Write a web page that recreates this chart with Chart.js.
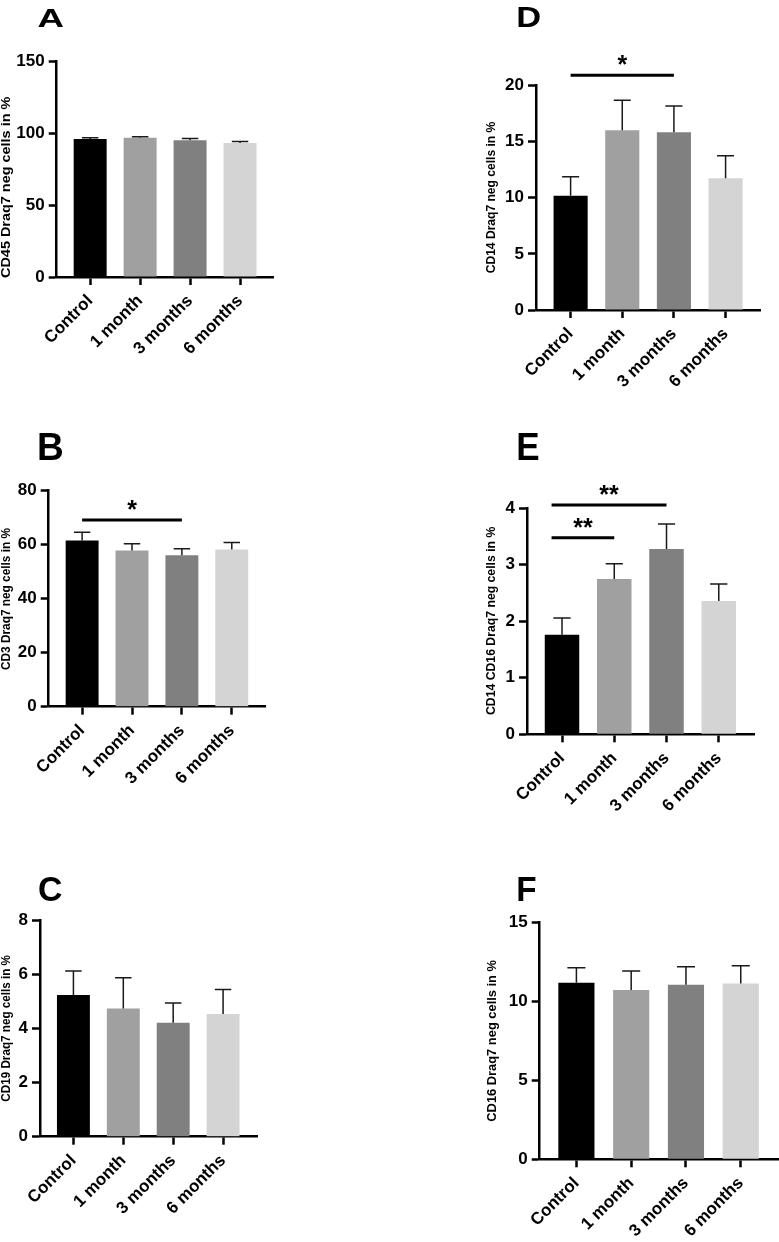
<!DOCTYPE html>
<html>
<head>
<meta charset="utf-8">
<script src="https://cdn.jsdelivr.net/npm/chart.js@4.4.1/dist/chart.umd.min.js"></script>
<style>
  html, body { margin: 0; padding: 0; background: #fff; }
  #wrap { position: relative; width: 779px; height: 1242px; overflow: hidden; }
  #wrap canvas { position: absolute; left: 0; top: 0; }
</style>
</head>
<body>
<div id="wrap"></div>
<script>
const groups = ["Control", "1 month", "3 months", "6 months"];
const barColors = ["#000000", "#a0a0a0", "#808080", "#d4d4d4"];

const cd45Mean = [95.9, 96.7, 94.9, 93.0];
const cd45Sem = [0.8, 0.7, 1.3, 1.1];
const cd3Mean = [61.4, 57.7, 55.9, 58.0];
const cd3Sem = [3.0, 2.5, 2.4, 2.6];
const cd19Mean = [5.23, 4.73, 4.21, 4.53];
const cd19Sem = [0.89, 1.14, 0.73, 0.9];
const cd14Mean = [10.17, 15.99, 15.81, 11.72];
const cd14Sem = [1.69, 2.69, 2.34, 2.01];
const cd14cd16Mean = [1.76, 2.75, 3.28, 2.36];
const cd14cd16Sem = [0.3, 0.27, 0.44, 0.3];
const cd16Mean = [11.19, 10.73, 11.07, 11.15];
const cd16Sem = [0.95, 1.2, 1.14, 1.12];

// significance bars: [from group, to group, height in axis units, stars]
const cd3Sig = [[0, 2, 68.9, "*"]];
const cd14Sig = [[0, 2, 20.9, "*"]];
const cd14cd16Sig = [[-0.2, 2, 4.06, "**"], [-0.2, 1, 3.48, "**"]];

const PAGE_W = 779;
const PAGE_H = 1242;
const Y_W = 40;
const X_H = 80;
const FONT = '"Liberation Sans", Arial, Helvetica, sans-serif';

// area = [left, top, right, bottom] of the plot in page pixels
const panels = [
  { letter: "A", letterBox: [38.3, 8.3, 25, 18.3], title: "CD45 Draq7 neg cells in %", titleBox: [6.5, 96.7, 278],
    area: [56.7, 61, 274, 277], yMax: 150, step: 50, mean: cd45Mean, sem: cd45Sem, sig: [] },
  { letter: "B", letterBox: [39.3, 433.3, 23, 26.7], title: "CD3 Draq7 neg cells in %", titleBox: [7.2, 528, 670],
    area: [48.7, 490, 265.7, 706.7], yMax: 80, step: 20, mean: cd3Mean, sem: cd3Sem, sig: cd3Sig },
  { letter: "C", letterBox: [39.3, 876.7, 22.3, 25], title: "CD19 Draq7 neg cells in %", titleBox: [7.2, 955, 1101.7],
    area: [40, 920, 257, 1136.7], yMax: 8, step: 2, mean: cd19Mean, sem: cd19Sem, sig: [] },
  { letter: "D", letterBox: [518.3, 6.7, 21.7, 20], title: "CD14 Draq7 neg cells in %", titleBox: [492, 121.7, 273.3],
    area: [536, 85.3, 760.7, 310], yMax: 20, step: 5, mean: cd14Mean, sem: cd14Sem, sig: cd14Sig },
  { letter: "E", letterBox: [518.3, 433.3, 20, 26.7], title: "CD14 CD16 Draq7 neg cells in %", titleBox: [492, 526.7, 715],
    area: [527, 508.3, 754.3, 734.3], yMax: 4, step: 1, mean: cd14cd16Mean, sem: cd14cd16Sem, sig: cd14cd16Sig },
  { letter: "F", letterBox: [518.3, 876.7, 17.3, 25], title: "CD16 Draq7 neg cells in %", titleBox: [493, 960, 1121.7],
    area: [539.7, 922.7, 778, 1159.3], yMax: 15, step: 5, mean: cd16Mean, sem: cd16Sem, sig: [] },
];

// draw text stretched into a box (top-left x, y, width, height)
function fitText(ctx, text, x, top, w, h) {
  ctx.save();
  ctx.font = "bold 100px " + FONT;
  const m = ctx.measureText(text);
  const tw = m.actualBoundingBoxLeft + m.actualBoundingBoxRight;
  const th = m.actualBoundingBoxAscent + m.actualBoundingBoxDescent;
  ctx.translate(x, top);
  ctx.scale(w / tw, h / th);
  ctx.textAlign = "left";
  ctx.textBaseline = "alphabetic";
  ctx.fillStyle = "#000";
  ctx.fillText(text, m.actualBoundingBoxLeft, m.actualBoundingBoxAscent);
  ctx.restore();
}

function drawStars(ctx, text, cx, cy, h) {
  ctx.save();
  ctx.font = "bold 100px " + FONT;
  const m = ctx.measureText(text);
  const th = m.actualBoundingBoxAscent + m.actualBoundingBoxDescent;
  const tw = m.actualBoundingBoxLeft + m.actualBoundingBoxRight;
  const k = h / th;
  ctx.translate(cx, cy);
  ctx.scale(k, k);
  ctx.fillStyle = "#000";
  ctx.textAlign = "left";
  ctx.textBaseline = "alphabetic";
  ctx.fillText(text, -tw / 2 + m.actualBoundingBoxLeft, th / 2 - m.actualBoundingBoxDescent);
  ctx.restore();
}

function drawTitle(ctx, text, cx, y0, y1) {
  ctx.save();
  ctx.font = "bold 13px " + FONT;
  const m = ctx.measureText(text);
  const base = (m.actualBoundingBoxAscent - m.actualBoundingBoxDescent) / 2;
  ctx.translate(cx, (y0 + y1) / 2);
  ctx.rotate(-Math.PI / 2);
  ctx.scale((y1 - y0) / m.width, 1);
  ctx.fillStyle = "#000";
  ctx.textAlign = "center";
  ctx.textBaseline = "alphabetic";
  ctx.fillText(text, 0, base);
  ctx.restore();
}

const panelExtras = (p) => ({
  id: "panelExtras",
  afterDatasetsDraw(chart) {
    const ctx = chart.ctx;
    const xs = chart.scales.x;
    const ys = chart.scales.y;
    const bars = chart.getDatasetMeta(0).data;
    ctx.save();
    ctx.strokeStyle = "#1a1a1a";
    ctx.lineWidth = 1.5;
    p.mean.forEach((v, i) => {
      const x = xs.getPixelForValue(i);
      const yTop = ys.getPixelForValue(v);
      const yCap = ys.getPixelForValue(v + p.sem[i]);
      const half = bars[i].width / 4;
      ctx.beginPath();
      ctx.moveTo(x, yTop);
      ctx.lineTo(x, yCap);
      ctx.moveTo(x - half, yCap);
      ctx.lineTo(x + half, yCap);
      ctx.stroke();
    });
    ctx.restore();
  },
  afterDraw(chart) {
    const ctx = chart.ctx;
    const xs = chart.scales.x;
    const ys = chart.scales.y;
    fitText(ctx, p.letter, ...p.letterBox);
    drawTitle(ctx, p.title, ...p.titleBox);
    p.sig.forEach(([a, b, level, stars]) => {
      const y = ys.getPixelForValue(level);
      const x0 = xs.getPixelForValue(a);
      const x1 = xs.getPixelForValue(b);
      ctx.save();
      ctx.strokeStyle = "#000";
      ctx.lineWidth = 3;
      ctx.beginPath();
      ctx.moveTo(x0, y);
      ctx.lineTo(x1, y);
      ctx.stroke();
      ctx.restore();
      drawStars(ctx, stars, (x0 + x1) / 2, y - 14.5, 9.5);
    });
  },
});

const wrap = document.getElementById("wrap");

panels.forEach((p) => {
  const canvas = document.createElement("canvas");
  canvas.width = PAGE_W;
  canvas.height = PAGE_H;
  wrap.appendChild(canvas);

  const axisGrid = {
    display: true,
    offset: false,
    drawOnChartArea: false,
    drawTicks: true,
    tickLength: 8,
    tickWidth: 2.5,
    tickColor: "#000",
  };
  const axisBorder = { display: true, width: 2.5, color: "#000" };

  new Chart(canvas, {
    type: "bar",
    data: {
      datasets: [
        {
          data: p.mean.map((v, i) => ({ x: i, y: v })),
          backgroundColor: barColors,
          borderWidth: 0,
          barPercentage: 0.66,
          categoryPercentage: 1,
        },
      ],
    },
    options: {
      responsive: false,
      animation: false,
      devicePixelRatio: 1,
      layout: {
        padding: {
          left: p.area[0] - Y_W,
          top: p.area[1],
          right: PAGE_W - p.area[2],
          bottom: PAGE_H - p.area[3] - X_H,
        },
      },
      plugins: {
        legend: { display: false },
        tooltip: { enabled: false },
      },
      scales: {
        x: {
          type: "linear",
          min: -0.67,
          max: 3.68,
          offset: false,
          z: 1,
          grid: axisGrid,
          border: axisBorder,
          afterBuildTicks: (s) => {
            s.ticks = groups.map((_, i) => ({ value: i }));
          },
          afterFit: (s) => {
            s.height = X_H;
          },
          ticks: {
            autoSkip: false,
            minRotation: 45,
            maxRotation: 45,
            padding: 6,
            color: "#000",
            font: { family: FONT, size: 17, weight: "bold" },
            callback: (v) => groups[v],
          },
        },
        y: {
          min: 0,
          max: p.yMax,
          z: 1,
          grid: axisGrid,
          border: axisBorder,
          afterFit: (s) => {
            s.width = Y_W;
          },
          ticks: {
            stepSize: p.step,
            padding: 4,
            color: "#000",
            font: { family: FONT, size: 17, weight: "bold" },
          },
        },
      },
    },
    plugins: [panelExtras(p)],
  });
});
</script>
</body>
</html>
